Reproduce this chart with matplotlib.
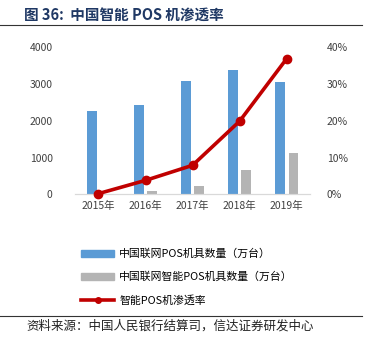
import matplotlib
matplotlib.use("Agg")
import matplotlib.pyplot as plt
from matplotlib.lines import Line2D
from matplotlib.patches import Patch
import numpy as np

plt.rcParams['font.family'] = ['Noto Sans CJK SC', 'DejaVu Sans']

years = ['2015年', '2016年', '2017年', '2018年', '2019年']
pos_total = [2260, 2430, 3090, 3380, 3060]      # 联网POS机具数量（万台）
pos_smart = [10, 85, 240, 670, 1120]            # 联网智能POS机具数量（万台）
penetration = [0.2, 3.8, 7.9, 19.9, 36.9]       # 智能POS机渗透率 %

left_ticks = [0, 1000, 2000, 3000, 4000]
right_ticks = [0, 10, 20, 30, 40]

blue = '#5b9bd5'
gray = '#b4b4b4'
red = '#c00000'

fig = plt.figure(figsize=(3.71, 3.38), dpi=100)
ax = fig.add_axes([0.202, 0.425, 0.634, 0.435])
ax2 = ax.twinx()

x = np.arange(len(years))
w = 0.21
ax.bar(x - 0.145, pos_total, width=w, color=blue)
ax.bar(x + 0.145, pos_smart, width=w, color=gray)
ax2.plot(x, penetration, color=red, lw=2.6, marker='o', ms=6, zorder=5,
         clip_on=False)

ax.set_xlim(-0.5, len(years) - 0.5)
ax.set_ylim(0, 4000)
ax2.set_ylim(0, 40)
ax.set_yticks(left_ticks)
ax.set_yticklabels([str(v) for v in left_ticks])
ax2.set_yticks(right_ticks)
ax2.set_yticklabels([f'{v}%' for v in right_ticks])
ax.set_xticks(x)
ax.set_xticklabels(years)

for a in (ax, ax2):
    for s in ('top', 'left', 'right'):
        a.spines[s].set_visible(False)
    a.spines['bottom'].set_color('#d9d9d9')
    a.tick_params(length=0, labelsize=7.5, colors='#404040')
ax.tick_params(axis='y', pad=16)
ax2.tick_params(axis='y', pad=12)
ax.tick_params(axis='x', pad=5)

# title and rules
fig.text(0.065, 0.955, '图 36:  中国智能 POS 机渗透率', fontsize=10.5,
         fontweight='bold', color='#1f3864', va='center')
fig.add_artist(Line2D([0, 0.976], [0.926, 0.926], color='#333333', lw=0.8))
fig.add_artist(Line2D([0, 0.976], [0.065, 0.065], color='#333333', lw=0.8))
fig.text(0.07, 0.034, '资料来源：中国人民银行结算司，信达证券研发中心',
         fontsize=9, color='#222222', va='center')

handles = [Patch(color=blue), Patch(color=gray),
           Line2D([], [], color=red, lw=2.6, marker='o', ms=4)]
labels = ['中国联网POS机具数量（万台）', '中国联网智能POS机具数量（万台）',
          '智能POS机渗透率']
fig.legend(handles, labels, loc='upper left', bbox_to_anchor=(0.205, 0.28),
           frameon=False, fontsize=7.8, handlelength=3.0, handleheight=0.6,
           labelspacing=1.15, handletextpad=0.5, borderpad=0)

fig.savefig('out.png', dpi=100)
